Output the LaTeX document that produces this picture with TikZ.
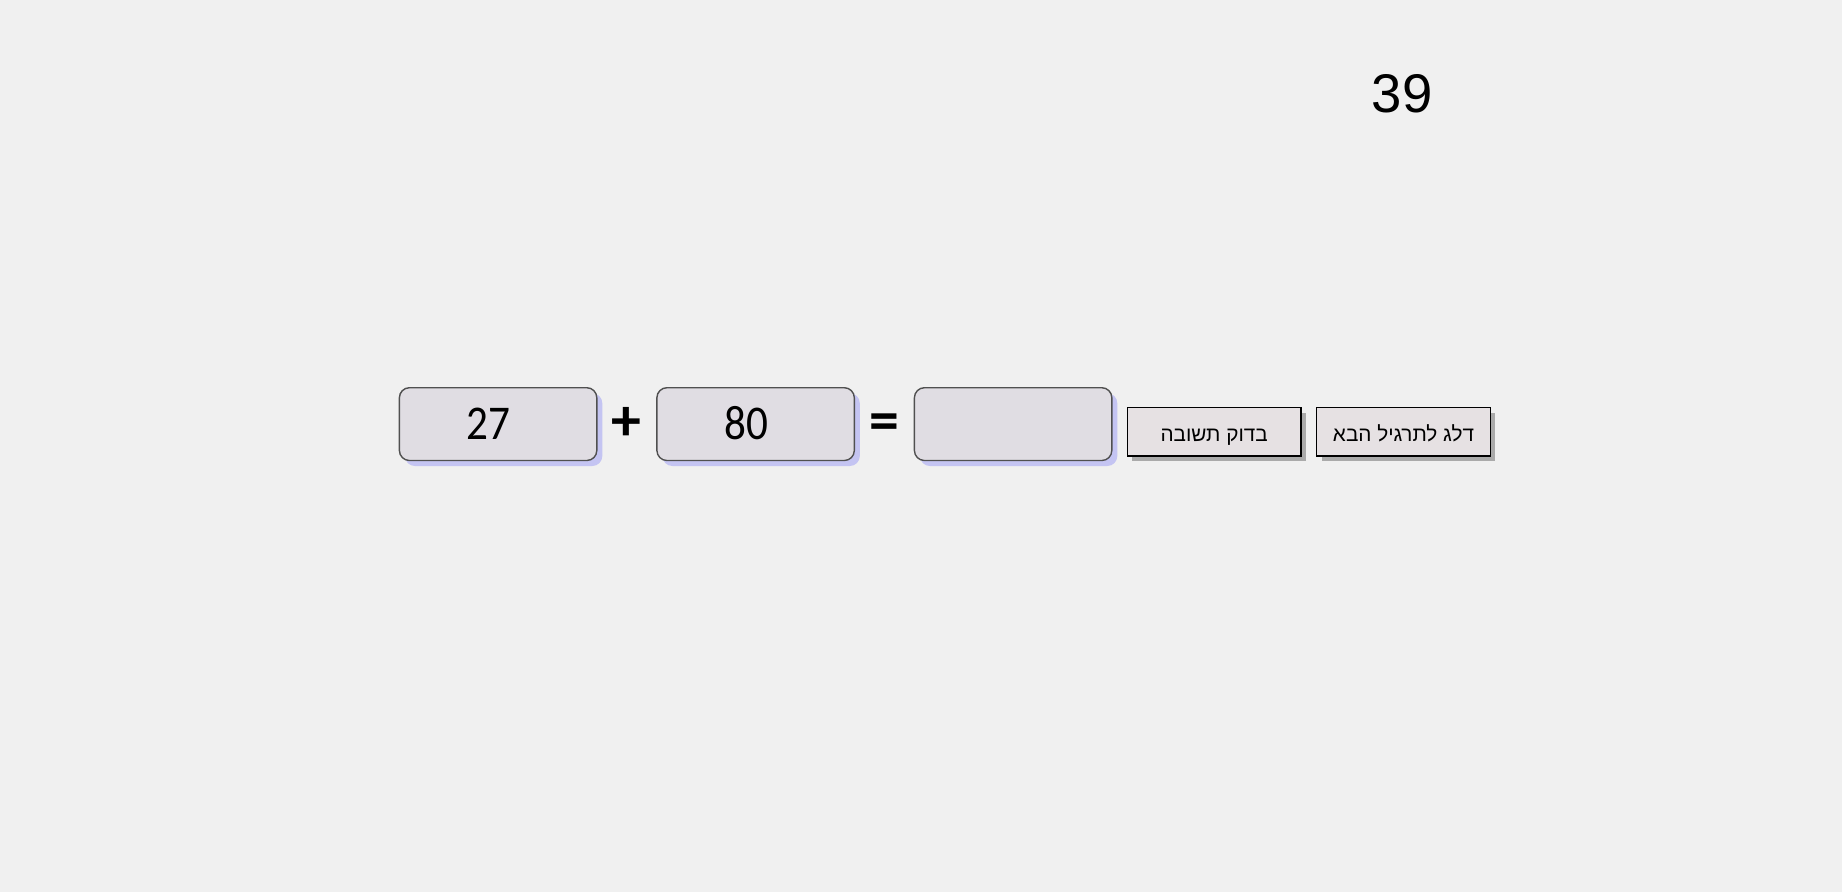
\documentclass[tikz,border=0pt]{standalone}
\usepackage{fontspec}
\usepackage{xcolor}
\usepackage{tikz}
\usetikzlibrary{positioning,shadows,calc}
\TeXXeTstate=1
\newfontfamily\numfont[FakeStretch=0.89]{Carlito}
\newfontfamily\signfont{Carlito}
\newfontfamily\hebfont[Script=Hebrew]{Liberation Sans}
\newfontfamily\scorefont{Liberation Sans}
\definecolor{pagebg}{HTML}{F0F0F0}
\definecolor{boxfill}{HTML}{E0DDE3}
\definecolor{boxline}{HTML}{505050}
\definecolor{boxshade}{HTML}{C4C4F2}
\definecolor{btnfill}{HTML}{E6E1E3}
\definecolor{btnshade}{HTML}{AAAAAA}

\begin{document}
\begin{tikzpicture}[
    node distance=0.587cm and 0.14cm,
    numbox/.style={rectangle, draw=boxline, fill=boxfill, rounded corners=1mm, minimum width=1.974cm, minimum height=0.728cm, inner sep=0pt, text height=8.5pt, text depth=0pt, font=\numfont\fontsize{13.8}{13.8}\selectfont, execute at end node=\hspace*{0.188cm}, drop shadow={shadow xshift=0.055cm, shadow yshift=-0.055cm, fill=boxshade, opacity=1}},
    button/.style={rectangle, draw=black, fill=btnfill, minimum width=1.739cm, minimum height=0.482cm, inner sep=0pt, text height=5.5pt, text depth=0pt, font=\hebfont\fontsize{5.9}{5.9}\selectfont, drop shadow={shadow xshift=0.05cm, shadow yshift=-0.05cm, fill=btnshade, opacity=1}},
    sign/.style={font=\signfont\bfseries\fontsize{17}{17}\selectfont, inner sep=0pt},
]
    % Page
    \fill[pagebg] (0,0) rectangle (18.42,-8.92);
    \useasboundingbox (0,0) rectangle (18.42,-8.92);

    % Score
    \node[font=\scorefont\fontsize{15.5}{15.5}\selectfont] (score) at (14.02,-0.94) {39};

    % Exercise
    \node[numbox] (first) at (4.981,-4.241) {27};
    \node[numbox, right=0.587cm of first] (second) {80};
    \node[numbox, right=0.587cm of second] (answer) {};
    \node[sign] (plus) at ($(first.east)!0.5!(second.west)$) {+};
    \node[sign, yshift=-0.03cm] (equals) at ($(second.east)!0.5!(answer.west)$) {=};

    % Buttons
    \node[button, right=0.14cm of answer, yshift=-0.076cm] (check) {\beginR בדוק תשובה\endR};
    \node[button, right=of check] (skip) {\beginR דלג לתרגיל הבא\endR};
\end{tikzpicture}
\end{document}
